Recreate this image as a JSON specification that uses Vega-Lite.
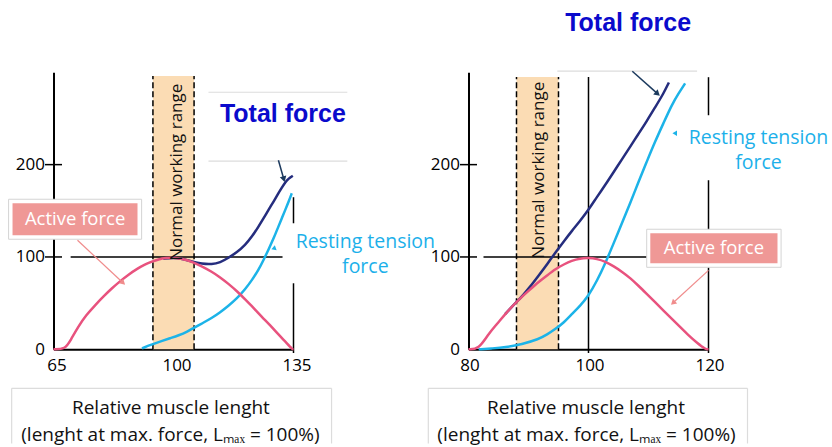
{
  "$schema": "https://vega.github.io/schema/vega-lite/v6.json",
  "background": "white",
  "autosize": {"type": "pad"},
  "padding": {"left": 7.5, "top": 11.3, "right": 0, "bottom": 0},
  "config": {
    "view": {"stroke": null},
    "axis": {"domainColor": "black", "domainWidth": 2, "labelColor": "black", "labelFont": "Open Sans", "labelFontSize": 17, "ticks": false, "grid": false, "title": null, "labelFlush": false, "labelOverlap": false}
  },
  "bounds": "flush",
  "spacing": 175,
  "datasets": {
    "curvesL": [
      {"s": "active", "x": 65, "y": 0}, {"s": "active", "x": 68.4, "y": 0}, {"s": "active", "x": 70, "y": 10}, {"s": "active", "x": 72.3, "y": 25}, {"s": "active", "x": 74.5, "y": 37}, {"s": "active", "x": 77.2, "y": 48}, {"s": "active", "x": 79.5, "y": 57}, {"s": "active", "x": 82, "y": 66}, {"s": "active", "x": 84.5, "y": 74}, {"s": "active", "x": 86.9, "y": 81}, {"s": "active", "x": 89.3, "y": 87}, {"s": "active", "x": 91.7, "y": 92}, {"s": "active", "x": 93.7, "y": 95}, {"s": "active", "x": 95.6, "y": 97.5}, {"s": "active", "x": 97.8, "y": 99}, {"s": "active", "x": 100, "y": 99.5}, {"s": "active", "x": 102.5, "y": 98}, {"s": "active", "x": 105.3, "y": 95}, {"s": "active", "x": 108.2, "y": 90}, {"s": "active", "x": 111.2, "y": 84}, {"s": "active", "x": 113.6, "y": 78}, {"s": "active", "x": 116, "y": 71}, {"s": "active", "x": 118.5, "y": 63}, {"s": "active", "x": 120.9, "y": 54}, {"s": "active", "x": 123.3, "y": 45}, {"s": "active", "x": 125.8, "y": 35}, {"s": "active", "x": 128.2, "y": 26}, {"s": "active", "x": 130.6, "y": 16}, {"s": "active", "x": 132.7, "y": 8}, {"s": "active", "x": 134.7, "y": 0}, {"s": "active", "x": 135, "y": 0},
      {"s": "resting", "x": 90.8, "y": 1}, {"s": "resting", "x": 93.5, "y": 5}, {"s": "resting", "x": 96.6, "y": 9}, {"s": "resting", "x": 99, "y": 12}, {"s": "resting", "x": 101.5, "y": 15}, {"s": "resting", "x": 104, "y": 19}, {"s": "resting", "x": 106.3, "y": 24}, {"s": "resting", "x": 108.8, "y": 29}, {"s": "resting", "x": 111.2, "y": 34}, {"s": "resting", "x": 113.6, "y": 40}, {"s": "resting", "x": 116, "y": 47}, {"s": "resting", "x": 118.5, "y": 55}, {"s": "resting", "x": 120.9, "y": 65}, {"s": "resting", "x": 122.9, "y": 75}, {"s": "resting", "x": 124.8, "y": 86}, {"s": "resting", "x": 126.3, "y": 97}, {"s": "resting", "x": 127.7, "y": 108}, {"s": "resting", "x": 129.2, "y": 120}, {"s": "resting", "x": 130.6, "y": 133}, {"s": "resting", "x": 131.6, "y": 142}, {"s": "resting", "x": 132.6, "y": 151}, {"s": "resting", "x": 133.6, "y": 160}, {"s": "resting", "x": 134.5, "y": 169},
      {"s": "total", "x": 97, "y": 98}, {"s": "total", "x": 100, "y": 99.5}, {"s": "total", "x": 102.5, "y": 98}, {"s": "total", "x": 105.3, "y": 95}, {"s": "total", "x": 108.3, "y": 92.5}, {"s": "total", "x": 111.2, "y": 92}, {"s": "total", "x": 113.6, "y": 94}, {"s": "total", "x": 116, "y": 99}, {"s": "total", "x": 118.5, "y": 105}, {"s": "total", "x": 120.9, "y": 113}, {"s": "total", "x": 122.9, "y": 122}, {"s": "total", "x": 124.8, "y": 133}, {"s": "total", "x": 126.3, "y": 142}, {"s": "total", "x": 127.7, "y": 151}, {"s": "total", "x": 129.2, "y": 160}, {"s": "total", "x": 130.6, "y": 169}, {"s": "total", "x": 131.6, "y": 175}, {"s": "total", "x": 132.6, "y": 181}, {"s": "total", "x": 133.6, "y": 185}, {"s": "total", "x": 134.8, "y": 188}
    ],
    "curvesR": [
      {"s": "active", "x": 80, "y": 0}, {"s": "active", "x": 81.7, "y": 0}, {"s": "active", "x": 83.3, "y": 16.5}, {"s": "active", "x": 84.7, "y": 27}, {"s": "active", "x": 86.1, "y": 38}, {"s": "active", "x": 87.5, "y": 48}, {"s": "active", "x": 88.9, "y": 57}, {"s": "active", "x": 90.3, "y": 65}, {"s": "active", "x": 91.7, "y": 73}, {"s": "active", "x": 93.1, "y": 80}, {"s": "active", "x": 94.5, "y": 87}, {"s": "active", "x": 95.9, "y": 92}, {"s": "active", "x": 97.2, "y": 96}, {"s": "active", "x": 98.6, "y": 98.5}, {"s": "active", "x": 100, "y": 99}, {"s": "active", "x": 101.4, "y": 98}, {"s": "active", "x": 102.8, "y": 95}, {"s": "active", "x": 104.2, "y": 90}, {"s": "active", "x": 105.6, "y": 84}, {"s": "active", "x": 107, "y": 77}, {"s": "active", "x": 108.3, "y": 69}, {"s": "active", "x": 109.7, "y": 60}, {"s": "active", "x": 111.1, "y": 51}, {"s": "active", "x": 112.5, "y": 42}, {"s": "active", "x": 113.9, "y": 33}, {"s": "active", "x": 115.3, "y": 24}, {"s": "active", "x": 116.7, "y": 15}, {"s": "active", "x": 118.1, "y": 7}, {"s": "active", "x": 119.5, "y": 0}, {"s": "active", "x": 120, "y": 0},
      {"s": "resting", "x": 81.7, "y": 0}, {"s": "resting", "x": 84, "y": 1}, {"s": "resting", "x": 86.1, "y": 2}, {"s": "resting", "x": 88.9, "y": 5.5}, {"s": "resting", "x": 91.7, "y": 11}, {"s": "resting", "x": 93.1, "y": 16}, {"s": "resting", "x": 94.5, "y": 22}, {"s": "resting", "x": 95.9, "y": 29}, {"s": "resting", "x": 97.2, "y": 38}, {"s": "resting", "x": 98.6, "y": 47}, {"s": "resting", "x": 100, "y": 58}, {"s": "resting", "x": 101.4, "y": 74}, {"s": "resting", "x": 102.8, "y": 93}, {"s": "resting", "x": 104.2, "y": 115}, {"s": "resting", "x": 105.6, "y": 137}, {"s": "resting", "x": 107, "y": 159}, {"s": "resting", "x": 108.3, "y": 181}, {"s": "resting", "x": 109.7, "y": 203}, {"s": "resting", "x": 111.1, "y": 225}, {"s": "resting", "x": 112.5, "y": 245}, {"s": "resting", "x": 113.9, "y": 265}, {"s": "resting", "x": 115, "y": 277}, {"s": "resting", "x": 116.1, "y": 288},
      {"s": "total", "x": 86.1, "y": 38}, {"s": "total", "x": 87.5, "y": 48}, {"s": "total", "x": 88.9, "y": 57}, {"s": "total", "x": 90.3, "y": 68}, {"s": "total", "x": 91.7, "y": 80}, {"s": "total", "x": 93.1, "y": 92}, {"s": "total", "x": 94.5, "y": 105}, {"s": "total", "x": 95.9, "y": 117}, {"s": "total", "x": 97.2, "y": 128}, {"s": "total", "x": 98.6, "y": 139}, {"s": "total", "x": 100, "y": 151}, {"s": "total", "x": 101.4, "y": 165}, {"s": "total", "x": 102.8, "y": 178}, {"s": "total", "x": 104.2, "y": 192}, {"s": "total", "x": 105.6, "y": 206}, {"s": "total", "x": 107, "y": 220}, {"s": "total", "x": 108.3, "y": 233}, {"s": "total", "x": 109.7, "y": 247}, {"s": "total", "x": 111.1, "y": 262}, {"s": "total", "x": 112.5, "y": 277}, {"s": "total", "x": 113.4, "y": 289}
    ],
    "rectsL": [
      {"k": "band", "x": 94, "x2": 106, "y": 0, "y2": 296},
      {"k": "outer", "x": 51.9, "x2": 90.7, "y": 119.2, "y2": 162.5},
      {"k": "box", "x": 53.05, "x2": 89.5, "y": 123.5, "y2": 158.2}
    ],
    "rectsR": [
      {"k": "band", "x": 88, "x2": 95, "y": 0, "y2": 295},
      {"k": "outer", "x": 109.7, "x2": 132.1, "y": 88.8, "y2": 130},
      {"k": "box", "x": 110.3, "x2": 131.5, "y": 93.2, "y2": 125.7}
    ],
    "rulesL": [
      {"k": "dash", "x": 94, "y": 0, "x2": 94, "y2": 296},
      {"k": "dash", "x": 106, "y": 0, "x2": 106, "y2": 296},
      {"k": "solid", "x": 70, "y": 100, "x2": 131.8, "y2": 100},
      {"k": "solid", "x": 135, "y": -4, "x2": 135, "y2": 71.5},
      {"k": "solid", "x": 135, "y": 136.5, "x2": 135, "y2": 164.7},
      {"k": "gray", "x": 110.2, "y": 278.4, "x2": 150.7, "y2": 278.4},
      {"k": "gray", "x": 110.2, "y": 203.7, "x2": 150.7, "y2": 203.7},
      {"k": "gray", "x": 52.8, "y": -42.3, "x2": 146.1, "y2": -42.3},
      {"k": "gray", "x": 52.8, "y": -42.3, "x2": 52.8, "y2": -102},
      {"k": "gray", "x": 146.1, "y": -42.3, "x2": 146.1, "y2": -102},
      {"k": "narrow", "x": 130.6, "y": 204.8, "x2": 132.1, "y2": 185.3},
      {"k": "parrow", "x": 72, "y": 118.1, "x2": 85.1, "y2": 72.6}
    ],
    "rulesR": [
      {"k": "dash", "x": 88, "y": 0, "x2": 88, "y2": 295},
      {"k": "dash", "x": 95, "y": 0, "x2": 95, "y2": 295},
      {"k": "solid", "x": 100, "y": -4, "x2": 100, "y2": 295},
      {"k": "solid", "x": 82.5, "y": 100, "x2": 110.3, "y2": 100},
      {"k": "solid", "x": 120, "y": 253.5, "x2": 120, "y2": 294.7},
      {"k": "solid", "x": 120, "y": 128.9, "x2": 120, "y2": 183.1},
      {"k": "solid", "x": 120, "y": -4, "x2": 120, "y2": 88.8},
      {"k": "gray", "x": 94.8, "y": 301.2, "x2": 118.1, "y2": 301.2},
      {"k": "gray", "x": 73.3, "y": -42.3, "x2": 126.5, "y2": -42.3},
      {"k": "gray", "x": 73.3, "y": -42.3, "x2": 73.3, "y2": -102},
      {"k": "gray", "x": 126.5, "y": -42.3, "x2": 126.5, "y2": -102},
      {"k": "narrow", "x": 107.3, "y": 301.2, "x2": 111.4, "y2": 277.4},
      {"k": "parrow", "x": 120, "y": 85.5, "x2": 114.2, "y2": 50.9}
    ],
    "headsL": [
      {"k": "navy", "x": 132.1, "y": 185.3},
      {"k": "pink", "x": 85.1, "y": 72.6},
      {"k": "cyan", "x": 129.4, "y": 109.4}
    ],
    "headsR": [
      {"k": "navy", "x": 111.4, "y": 277.4},
      {"k": "pink", "x": 114.2, "y": 50.9},
      {"k": "cyan", "x": 114.5, "y": 234}
    ],
    "textL": [
      {"k": "total", "x": 131.9, "y": 254.6, "t": "Total force"},
      {"k": "nwr", "x": 101.1, "y": 191.8, "t": "Normal working range"},
      {"k": "active", "x": 71.3, "y": 140.8, "t": "Active force"},
      {"k": "rest", "x": 155.95, "y": 125.7, "t": "Resting tension\nforce"},
      {"k": "title", "x": 99.25, "y": -63.9, "t": "Relative muscle lenght"},
      {"k": "title", "x": 99.1, "y": -93.2, "t": "(lenght at max. force, Lₘₐₓ = 100%)"}
    ],
    "textR": [
      {"k": "total", "x": 106.6, "y": 352.9, "t": "Total force"},
      {"k": "nwr", "x": 91.75, "y": 193.9, "t": "Normal working range"},
      {"k": "active", "x": 120.9, "y": 109.4, "t": "Active force"},
      {"k": "rest", "x": 128.33, "y": 238.3, "t": "Resting tension\nforce"},
      {"k": "title", "x": 99.58, "y": -63.9, "t": "Relative muscle lenght"},
      {"k": "title", "x": 99.67, "y": -93.2, "t": "(lenght at max. force, Lₘₐₓ = 100%)"}
    ],
    "ticksL": [{"x": 65, "y": 100}, {"x": 65, "y": 200}],
    "ticksR": [{"x": 80, "y": 100}, {"x": 80, "y": 200}]
  },
  "hconcat": [
    {
      "width": 240,
      "height": 277,
      "encoding": {
        "x": {"field": "x", "type": "quantitative", "scale": {"domain": [65, 135], "nice": false, "zero": false}, "axis": {"values": [65, 100, 135], "labelPadding": 8, "labelOffset": 3}},
        "y": {"field": "y", "type": "quantitative", "scale": {"domain": [0, 300], "nice": false, "zero": false}, "axis": {"values": [0, 100, 200], "labelPadding": 9}}
      },
      "layer": [
        {"data": {"name": "rectsL"}, "transform": [{"filter": "datum.k === 'band'"}], "mark": {"type": "rect", "color": "#fbdcb4"}, "encoding": {"x2": {"field": "x2"}, "y2": {"field": "y2"}}},
        {"data": {"name": "rulesL"}, "transform": [{"filter": "datum.k === 'dash'"}], "mark": {"type": "rule", "color": "black", "strokeWidth": 1.5, "strokeDash": [6, 3]}, "encoding": {"x2": {"field": "x2"}, "y2": {"field": "y2"}}},
        {"data": {"name": "rulesL"}, "transform": [{"filter": "datum.k === 'solid'"}], "mark": {"type": "rule", "color": "black", "strokeWidth": 1.5}, "encoding": {"x2": {"field": "x2"}, "y2": {"field": "y2"}}},
        {"data": {"name": "rulesL"}, "transform": [{"filter": "datum.k === 'gray'"}], "mark": {"type": "rule", "color": "#dcdcdc", "strokeWidth": 1.2}, "encoding": {"x2": {"field": "x2"}, "y2": {"field": "y2"}}},
        {"data": {"name": "curvesL"}, "transform": [{"filter": "datum.s === 'total'"}], "mark": {"type": "line", "color": "#252d7e", "strokeWidth": 2.5, "interpolate": "basis"}},
        {"data": {"name": "curvesL"}, "transform": [{"filter": "datum.s === 'resting'"}], "mark": {"type": "line", "color": "#1cb3e8", "strokeWidth": 2.5, "interpolate": "basis"}},
        {"data": {"name": "curvesL"}, "transform": [{"filter": "datum.s === 'active'"}], "mark": {"type": "line", "color": "#e8527e", "strokeWidth": 2.5, "interpolate": "basis"}},
        {"data": {"name": "textL"}, "transform": [{"filter": "datum.k === 'nwr'"}], "mark": {"type": "text", "font": "Open Sans", "fontSize": 17, "angle": 270, "align": "center", "baseline": "middle", "color": "#111111"}, "encoding": {"text": {"field": "t"}}},
        {"data": {"name": "rectsL"}, "transform": [{"filter": "datum.k === 'outer'"}], "mark": {"type": "rect", "fill": "white", "stroke": "#d4d4d4", "strokeWidth": 1}, "encoding": {"x2": {"field": "x2"}, "y2": {"field": "y2"}}},
        {"data": {"name": "rectsL"}, "transform": [{"filter": "datum.k === 'box'"}], "mark": {"type": "rect", "color": "#ef9896"}, "encoding": {"x2": {"field": "x2"}, "y2": {"field": "y2"}}},
        {"data": {"name": "rulesL"}, "transform": [{"filter": "datum.k === 'narrow'"}], "mark": {"type": "rule", "color": "#1c3a5e", "strokeWidth": 1.5}, "encoding": {"x2": {"field": "x2"}, "y2": {"field": "y2"}}},
        {"data": {"name": "rulesL"}, "transform": [{"filter": "datum.k === 'parrow'"}], "mark": {"type": "rule", "color": "#f08c8c", "strokeWidth": 1.2}, "encoding": {"x2": {"field": "x2"}, "y2": {"field": "y2"}}},
        {"data": {"name": "headsL"}, "transform": [{"filter": "datum.k === 'navy'"}], "mark": {"type": "point", "shape": "triangle", "angle": 164.5, "size": 45, "filled": true, "color": "#1c3a5e", "opacity": 1}},
        {"data": {"name": "headsL"}, "transform": [{"filter": "datum.k === 'pink'"}], "mark": {"type": "point", "shape": "triangle", "angle": 133, "size": 40, "filled": true, "color": "#f08c8c", "opacity": 1}},
        {"data": {"name": "headsL"}, "transform": [{"filter": "datum.k === 'cyan'"}], "mark": {"type": "point", "shape": "triangle", "angle": 250, "size": 28, "filled": true, "color": "#1cb3e8", "opacity": 1}},
        {"data": {"name": "textL"}, "transform": [{"filter": "datum.k === 'total'"}], "mark": {"type": "text", "font": "Liberation Sans", "fontWeight": "bold", "fontSize": 25, "align": "center", "baseline": "middle", "color": "#0a0acc"}, "encoding": {"text": {"field": "t"}}},
        {"data": {"name": "textL"}, "transform": [{"filter": "datum.k === 'active'"}], "mark": {"type": "text", "font": "Open Sans", "fontSize": 18.5, "align": "center", "baseline": "middle", "color": "white"}, "encoding": {"text": {"field": "t"}}},
        {"data": {"name": "textL"}, "transform": [{"filter": "datum.k === 'rest'"}], "mark": {"type": "text", "font": "Open Sans", "fontSize": 19.5, "align": "center", "baseline": "top", "lineBreak": "\n", "lineHeight": 24.5, "color": "#1cb0ea"}, "encoding": {"text": {"field": "t"}}},
        {"data": {"name": "textL"}, "transform": [{"filter": "datum.k === 'title'"}], "mark": {"type": "text", "font": "Open Sans", "fontSize": 19, "align": "center", "baseline": "middle", "color": "#111111"}, "encoding": {"text": {"field": "t"}}},
        {"data": {"name": "ticksL"}, "mark": {"type": "tick", "orient": "horizontal", "size": 17, "thickness": 1.5, "color": "black", "opacity": 1}}
      ]
    },
    {
      "width": 240,
      "height": 277,
      "encoding": {
        "x": {"field": "x", "type": "quantitative", "scale": {"domain": [80, 120], "nice": false, "zero": false}, "axis": {"values": [80, 100, 120], "labelPadding": 8, "labelOffset": 1}},
        "y": {"field": "y", "type": "quantitative", "scale": {"domain": [0, 300], "nice": false, "zero": false}, "axis": {"values": [0, 100, 200], "labelPadding": 9}}
      },
      "layer": [
        {"data": {"name": "rectsR"}, "transform": [{"filter": "datum.k === 'band'"}], "mark": {"type": "rect", "color": "#fbdcb4"}, "encoding": {"x2": {"field": "x2"}, "y2": {"field": "y2"}}},
        {"data": {"name": "rulesR"}, "transform": [{"filter": "datum.k === 'dash'"}], "mark": {"type": "rule", "color": "black", "strokeWidth": 1.5, "strokeDash": [6, 3]}, "encoding": {"x2": {"field": "x2"}, "y2": {"field": "y2"}}},
        {"data": {"name": "rulesR"}, "transform": [{"filter": "datum.k === 'solid'"}], "mark": {"type": "rule", "color": "black", "strokeWidth": 1.5}, "encoding": {"x2": {"field": "x2"}, "y2": {"field": "y2"}}},
        {"data": {"name": "rulesR"}, "transform": [{"filter": "datum.k === 'gray'"}], "mark": {"type": "rule", "color": "#dcdcdc", "strokeWidth": 1.2}, "encoding": {"x2": {"field": "x2"}, "y2": {"field": "y2"}}},
        {"data": {"name": "curvesR"}, "transform": [{"filter": "datum.s === 'total'"}], "mark": {"type": "line", "color": "#252d7e", "strokeWidth": 2.5, "interpolate": "basis"}},
        {"data": {"name": "curvesR"}, "transform": [{"filter": "datum.s === 'resting'"}], "mark": {"type": "line", "color": "#1cb3e8", "strokeWidth": 2.5, "interpolate": "basis"}},
        {"data": {"name": "curvesR"}, "transform": [{"filter": "datum.s === 'active'"}], "mark": {"type": "line", "color": "#e8527e", "strokeWidth": 2.5, "interpolate": "basis"}},
        {"data": {"name": "textR"}, "transform": [{"filter": "datum.k === 'nwr'"}], "mark": {"type": "text", "font": "Open Sans", "fontSize": 17, "angle": 270, "align": "center", "baseline": "middle", "color": "#111111"}, "encoding": {"text": {"field": "t"}}},
        {"data": {"name": "rectsR"}, "transform": [{"filter": "datum.k === 'outer'"}], "mark": {"type": "rect", "fill": "white", "stroke": "#d4d4d4", "strokeWidth": 1}, "encoding": {"x2": {"field": "x2"}, "y2": {"field": "y2"}}},
        {"data": {"name": "rectsR"}, "transform": [{"filter": "datum.k === 'box'"}], "mark": {"type": "rect", "color": "#ef9896"}, "encoding": {"x2": {"field": "x2"}, "y2": {"field": "y2"}}},
        {"data": {"name": "rulesR"}, "transform": [{"filter": "datum.k === 'narrow'"}], "mark": {"type": "rule", "color": "#1c3a5e", "strokeWidth": 1.5}, "encoding": {"x2": {"field": "x2"}, "y2": {"field": "y2"}}},
        {"data": {"name": "rulesR"}, "transform": [{"filter": "datum.k === 'parrow'"}], "mark": {"type": "rule", "color": "#f08c8c", "strokeWidth": 1.2}, "encoding": {"x2": {"field": "x2"}, "y2": {"field": "y2"}}},
        {"data": {"name": "headsR"}, "transform": [{"filter": "datum.k === 'navy'"}], "mark": {"type": "point", "shape": "triangle", "angle": 131, "size": 45, "filled": true, "color": "#1c3a5e", "opacity": 1}},
        {"data": {"name": "headsR"}, "transform": [{"filter": "datum.k === 'pink'"}], "mark": {"type": "point", "shape": "triangle", "angle": 228, "size": 40, "filled": true, "color": "#f08c8c", "opacity": 1}},
        {"data": {"name": "headsR"}, "transform": [{"filter": "datum.k === 'cyan'"}], "mark": {"type": "point", "shape": "triangle", "angle": 270, "size": 28, "filled": true, "color": "#1cb3e8", "opacity": 1}},
        {"data": {"name": "textR"}, "transform": [{"filter": "datum.k === 'total'"}], "mark": {"type": "text", "font": "Liberation Sans", "fontWeight": "bold", "fontSize": 25, "align": "center", "baseline": "middle", "color": "#0a0acc"}, "encoding": {"text": {"field": "t"}}},
        {"data": {"name": "textR"}, "transform": [{"filter": "datum.k === 'active'"}], "mark": {"type": "text", "font": "Open Sans", "fontSize": 18.5, "align": "center", "baseline": "middle", "color": "white"}, "encoding": {"text": {"field": "t"}}},
        {"data": {"name": "textR"}, "transform": [{"filter": "datum.k === 'rest'"}], "mark": {"type": "text", "font": "Open Sans", "fontSize": 19.5, "align": "center", "baseline": "top", "lineBreak": "\n", "lineHeight": 24.5, "color": "#1cb0ea"}, "encoding": {"text": {"field": "t"}}},
        {"data": {"name": "textR"}, "transform": [{"filter": "datum.k === 'title'"}], "mark": {"type": "text", "font": "Open Sans", "fontSize": 19, "align": "center", "baseline": "middle", "color": "#111111"}, "encoding": {"text": {"field": "t"}}},
        {"data": {"name": "ticksR"}, "mark": {"type": "tick", "orient": "horizontal", "size": 17, "thickness": 1.5, "color": "black", "opacity": 1}}
      ]
    }
  ]
}
